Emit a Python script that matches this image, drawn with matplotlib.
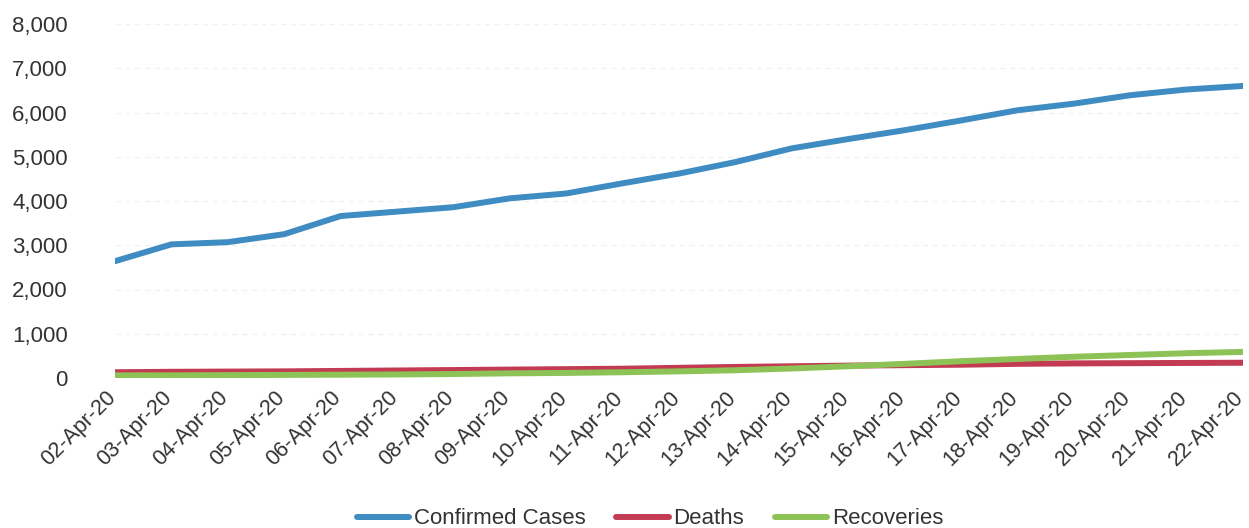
import matplotlib
matplotlib.use("Agg")
import matplotlib.pyplot as plt
import matplotlib.transforms as mtransforms

dates = ["02-Apr-20", "03-Apr-20", "04-Apr-20", "05-Apr-20", "06-Apr-20", "07-Apr-20",
         "08-Apr-20", "09-Apr-20", "10-Apr-20", "11-Apr-20", "12-Apr-20", "13-Apr-20",
         "14-Apr-20", "15-Apr-20", "16-Apr-20", "17-Apr-20", "18-Apr-20", "19-Apr-20",
         "20-Apr-20", "21-Apr-20", "22-Apr-20"]
confirmed = [2640, 3020, 3070, 3250, 3660, 3760, 3860, 4060, 4170, 4400, 4620, 4880,
             5190, 5400, 5600, 5820, 6050, 6200, 6390, 6520, 6600]
deaths = [130, 140, 145, 150, 160, 170, 180, 190, 200, 210, 230, 250,
          265, 280, 290, 300, 320, 330, 335, 340, 345]
recoveries = [60, 60, 65, 70, 75, 80, 90, 105, 115, 130, 150, 175,
              215, 265, 320, 380, 430, 480, 520, 560, 590]
yticks = [0, 1000, 2000, 3000, 4000, 5000, 6000, 7000, 8000]

plt.rcParams['font.family'] = ['Liberation Sans', 'DejaVu Sans']
text_color = '#333333'

fig = plt.figure(figsize=(12.49, 5.28), dpi=100)
ax = fig.add_axes([115 / 1249, 1 - 378 / 528, (1243 - 115) / 1249, (378 - 24) / 528])

x = list(range(len(dates)))
lw = 4.3
l1, = ax.plot(x, confirmed, color='#3f8cc2', lw=lw, solid_capstyle='round', solid_joinstyle='round', label='Confirmed Cases')
l2, = ax.plot(x, deaths, color='#c23b52', lw=lw, solid_capstyle='round', solid_joinstyle='round', label='Deaths')
l3, = ax.plot(x, recoveries, color='#8dc356', lw=lw, solid_capstyle='round', solid_joinstyle='round', label='Recoveries')

ax.set_xlim(0, len(dates) - 1)
ax.set_ylim(0, 8000)
ax.set_yticks(yticks)
ax.set_yticklabels([f"{v:,}" for v in yticks], fontsize=16, color=text_color)
ax.set_xticks(x)
ax.set_xticklabels([])
base = mtransforms.blended_transform_factory(ax.transData, ax.transAxes)
offset = mtransforms.ScaledTranslation(-10 / 100, -9 / 100, fig.dpi_scale_trans)
for xi, lab in zip(x, dates):
    ax.text(xi, 0, lab, transform=base + offset, rotation=45, ha='right', va='top',
            rotation_mode='anchor', fontsize=15.5, color=text_color, clip_on=False)
ax.tick_params(axis='both', length=0)
ax.tick_params(axis='y', pad=34)
for s in ax.spines.values():
    s.set_visible(False)
ax.grid(axis='y', color='#f2f2f2', lw=1, ls=(0, (4, 3)))
ax.set_axisbelow(True)

fig.legend(handles=[l1, l2, l3], loc='center', bbox_to_anchor=(650 / 1249, 1 - 519 / 528),
           ncol=3, frameon=False, fontsize=16, handlelength=2.35, handletextpad=0.2,
           columnspacing=1.4, labelcolor=text_color, borderaxespad=0, borderpad=0.2)

fig.savefig("out.png", dpi=100)
